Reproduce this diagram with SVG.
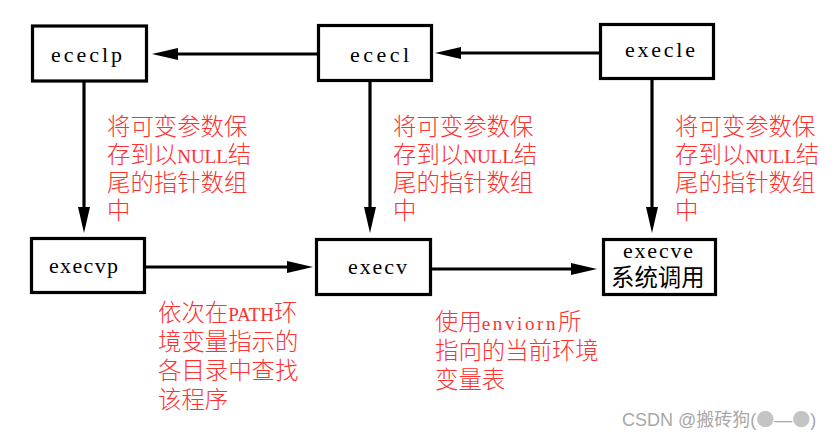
<svg xmlns="http://www.w3.org/2000/svg" width="839" height="437" viewBox="0 0 839 437">
<defs>
<style>
.box{fill:#fff;stroke:#000;stroke-width:3.2}
.edge{stroke:#000;stroke-width:3.2;fill:none;marker-end:url(#ah)}
.nt{font-family:"Liberation Serif","Noto Sans CJK SC",serif;font-size:22px;fill:#000}
.cj{font-family:"Noto Sans CJK SC",sans-serif;font-size:23.4px;fill:#000}
.lb{font-family:"Noto Sans CJK SC",sans-serif;font-size:23.4px;font-weight:300;fill:#ff3030}
.lm{font-family:"Liberation Serif",serif;font-size:19px;font-weight:400}
.wm{font-family:"Liberation Sans","Noto Sans CJK SC",sans-serif;font-size:18px;fill:#a8a8a8}
.wc{font-family:"Noto Sans CJK SC",sans-serif;fill:#c4c4c4}
</style>
<marker id="ah" markerUnits="userSpaceOnUse" markerWidth="27" markerHeight="14" refX="0" refY="7" orient="auto">
<path d="M0,1 L26,7 L0,13 z" fill="#000"/>
</marker>
</defs>
<rect width="839" height="437" fill="#fff"/>
<g id="connectors">
<line class="edge" x1="317" y1="54" x2="178" y2="54"/>
<line class="edge" x1="599" y1="53" x2="461" y2="53"/>
<line class="edge" x1="84" y1="82" x2="84" y2="207"/>
<line class="edge" x1="370" y1="81" x2="370" y2="207"/>
<line class="edge" x1="652" y1="80" x2="652" y2="207"/>
<line class="edge" x1="146" y1="267" x2="287" y2="267"/>
<line class="edge" x1="432" y1="269" x2="571" y2="269"/>
</g>
<g id="ececlp">
<rect class="box" x="32.5" y="26" width="114" height="55"/>
<text class="nt" x="51" y="62" textLength="71" lengthAdjust="spacing">ececlp</text>
</g>
<g id="ececl">
<rect class="box" x="318.5" y="25.5" width="113" height="55"/>
<text class="nt" x="350" y="62" textLength="59" lengthAdjust="spacing">ececl</text>
</g>
<g id="execle">
<rect class="box" x="600.5" y="24.5" width="113" height="54"/>
<text class="nt" x="625" y="57" textLength="70" lengthAdjust="spacing">execle</text>
</g>
<g id="execvp">
<rect class="box" x="31.5" y="238.5" width="113" height="54"/>
<text class="nt" x="49" y="273" textLength="69" lengthAdjust="spacing">execvp</text>
</g>
<g id="execv">
<rect class="box" x="316.5" y="239.5" width="114" height="55"/>
<text class="nt" x="348" y="274" textLength="59" lengthAdjust="spacing">execv</text>
</g>
<g id="execve">
<rect class="box" x="603.5" y="239.5" width="112" height="55"/>
<text class="nt" x="623" y="258" textLength="70" lengthAdjust="spacing">execve</text>
<text class="cj" x="611" y="286">系统调用</text>
</g>
<g id="label-ececlp">
<text class="lb" x="107" y="135">将可变参数保</text>
<text class="lb" x="107" y="163">存到以<tspan class="lm">NULL</tspan>结</text>
<text class="lb" x="107" y="191">尾的指针数组</text>
<text class="lb" x="107" y="219">中</text>
</g>
<g id="label-ececl">
<text class="lb" x="393" y="135">将可变参数保</text>
<text class="lb" x="393" y="163">存到以<tspan class="lm">NULL</tspan>结</text>
<text class="lb" x="393" y="191">尾的指针数组</text>
<text class="lb" x="393" y="219">中</text>
</g>
<g id="label-execle">
<text class="lb" x="675" y="135">将可变参数保</text>
<text class="lb" x="675" y="163">存到以<tspan class="lm">NULL</tspan>结</text>
<text class="lb" x="675" y="191">尾的指针数组</text>
<text class="lb" x="675" y="219">中</text>
</g>
<g id="label-execvp">
<text class="lb" x="158" y="321">依次在<tspan class="lm">PATH</tspan>环</text>
<text class="lb" x="158" y="350">境变量指示的</text>
<text class="lb" x="158" y="379">各目录中查找</text>
<text class="lb" x="158" y="408">该程序</text>
</g>
<g id="label-execv">
<text class="lb" x="435" y="330">使用<tspan class="lm" font-size="21" letter-spacing="2.6">enviorn</tspan>所</text>
<text class="lb" x="435" y="359">指向的当前环境</text>
<text class="lb" x="435" y="388">变量表</text>
</g>
<text class="wm" x="622" y="426">CSDN @搬砖狗(<tspan class="wc">●</tspan>—<tspan class="wc">●</tspan>)</text>
</svg>
